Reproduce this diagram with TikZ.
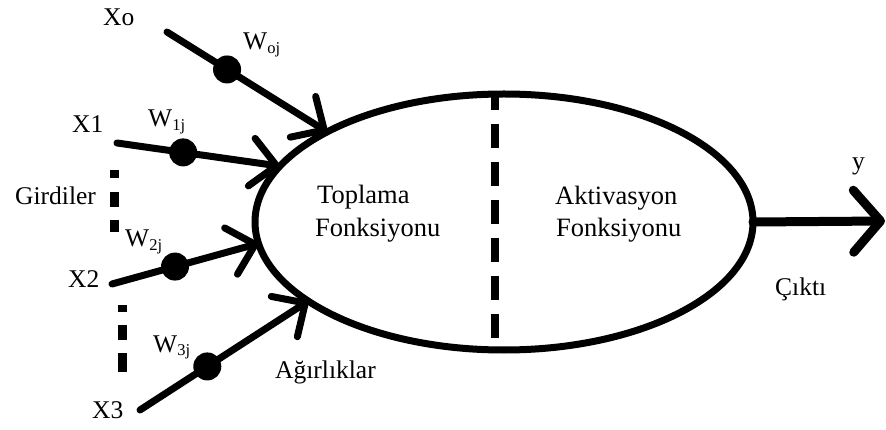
\documentclass[tikz,border=0pt]{standalone}
\usepackage{fontspec}
\setmainfont{Liberation Serif}
\usetikzlibrary{arrows.meta,shapes.geometric}
% weight label: W with a lowered small index
\newcommand\wlabel[1]{W\raisebox{-4pt}{\fontsize{16.5}{16.5}\selectfont #1}}
\begin{document}
\begin{tikzpicture}[x=1pt,y=-1pt,
  lbl/.style={anchor=base west, inner sep=0pt, font=\fontsize{25.5}{30}\selectfont},
  inlbl/.style={lbl, font=\fontsize{26.5}{30}\selectfont},
  wire/.style={line width=7pt, line cap=round,
    -{Straight Barb[length=25pt,width=48pt,line width=7pt,round]}},
  outwire/.style={line width=9pt, line cap=round,
    -{Straight Barb[length=27pt,width=62pt,line width=9pt,round]}},
  weightdot/.style={circle, fill=black, inner sep=0pt, minimum size=28pt},
  neuron/.style={ellipse, draw, line width=7pt, inner sep=0pt, outer sep=0pt,
    minimum width=498pt, minimum height=256pt},
  splitline/.style={line width=8pt, dash pattern=on 24pt off 14pt, dash phase=8pt},
  ellipsis/.style={line width=9pt}]
\useasboundingbox (0,0) rectangle (886,430);

% summing / activation unit
\node[neuron] (unit) at (504,222) {};
\draw[splitline] (495,94) -- (495,350);

\node[inlbl] (sumA) at (317,204) {Toplama};
\node[inlbl] (sumB) at (315,237) {Fonksiyonu};
\node[inlbl] (actA) at (555,205) {Aktivasyon};
\node[inlbl] (actB) at (556,237) {Fonksiyonu};

% inputs
\node[lbl] (x0) at (103,26) {Xo};
\node[lbl] (x1) at (72,133) {X1};
\node[lbl] (x2) at (68,288) {X2};
\node[lbl] (x3) at (92,418) {X3};
\node[lbl] (gir) at (15,205) {Girdiler};

\coordinate (s0) at (167,32);
\coordinate (s1) at (117,143);
\coordinate (s2) at (112,284);
\coordinate (s3) at (140,410);

\draw[wire] (s0) -- node[weightdot,pos=.375] (d0) {} (unit.153.3);
\draw[wire] (s1) -- node[weightdot,pos=.406] (d1) {} (unit.166.6);
\draw[wire] (s2) -- node[weightdot,pos=.43] (d2) {} (unit.185.8);
\draw[wire] (s3) -- node[weightdot,pos=.40] (d3) {} (unit.202.2);

% weights
\node[lbl] (w0) at (243,50) {\wlabel{oj}};
\node[lbl] (w1) at (148,127) {\wlabel{1j}};
\node[lbl] (w2) at (125,247) {\wlabel{2j}};
\node[lbl] (w3) at (153,352) {\wlabel{3j}};
\node[lbl] (agr) at (275,378) {Ağırlıklar};

% elided inputs
\draw[ellipsis, dash pattern=on 8pt off 14pt on 15pt off 13pt on 12pt] (114,170) -- (114,232);
\draw[ellipsis, dash pattern=on 7pt off 13pt on 15pt off 13pt on 19pt] (122,305) -- (122,372);

% output
\coordinate (yend) at (885,221);
\draw[outwire] (unit.east) -- (yend);
\node[lbl] (yout) at (852,170) {y};
\node[lbl] (cikti) at (775,295) {Çıktı};
\end{tikzpicture}
\end{document}
